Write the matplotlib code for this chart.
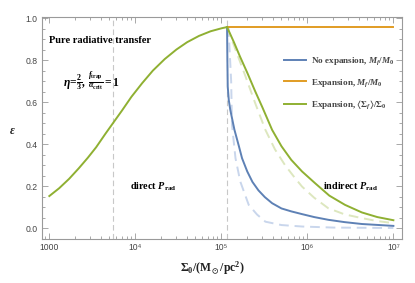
import matplotlib
matplotlib.use("Agg")
import matplotlib.pyplot as plt
from matplotlib.ticker import FixedLocator, FixedFormatter, MultipleLocator, LogLocator, NullFormatter

plt.rcParams['font.family'] = ['Liberation Serif', 'DejaVu Serif']
plt.rcParams['font.weight'] = 'bold'
plt.rcParams['mathtext.fontset'] = 'custom'
plt.rcParams['mathtext.rm'] = 'Liberation Serif:bold'
plt.rcParams['mathtext.it'] = 'Liberation Serif:bold:italic'
plt.rcParams['mathtext.bf'] = 'Liberation Serif:bold'
plt.rcParams['mathtext.fallback'] = 'stix'

# rising part (pure radiative transfer), shared by all expansion cases
sigma_rise = [1000, 1300, 1700, 2200, 2800, 3500, 4500, 5500, 7000, 9000, 1.2e4,
              1.6e4, 2.2e4, 3e4, 4e4, 5.5e4, 7.5e4, 1.0e5, 1.165e5]
eps_rise = [0.153, 0.19, 0.235, 0.285, 0.335, 0.385, 0.45, 0.50, 0.56, 0.625, 0.69,
            0.75, 0.805, 0.85, 0.885, 0.915, 0.937, 0.951, 0.957]

# no expansion, M_f/M_0
sigma_noexp = [1.165e5, 1.175e5, 1.186e5, 1.22e5, 1.27e5, 1.42e5, 1.6e5, 1.74e5,
               2.0e5, 2.3e5, 2.7e5, 3.2e5, 3.89e5, 5e5, 6.5e5, 8.67e5, 1.2e6,
               1.75e6, 2.7e6, 4.3e6, 1e7]
eps_noexp = [0.957, 0.80, 0.674, 0.61, 0.563, 0.468, 0.39, 0.333,
             0.27, 0.22, 0.18, 0.148, 0.119, 0.094, 0.08, 0.067, 0.053,
             0.040, 0.029, 0.020, 0.011]

# no expansion, comparison case (dashed)
sigma_noexp_d = [1.21e5, 1.3e5, 1.33e5, 1.46e5, 1.66e5, 2.08e5, 2.6e5, 3.25e5,
                 5e5, 8.67e5, 2e6, 1e7]
eps_noexp_d = [0.957, 0.70, 0.49, 0.333, 0.222, 0.111, 0.065, 0.031,
               0.015, 0.008, 0.003, 0.001]

# expansion, M_f/M_0
sigma_exp = [1.165e5, 1e7]
eps_exp = [0.957, 0.957]

# expansion, <Sigma_f>/Sigma_0
sigma_surf = [1.165e5, 1.4e5, 1.65e5, 2.0e5, 2.47e5, 3.0e5, 3.89e5, 5e5, 6.5e5,
              8.67e5, 1.23e6, 1.8e6, 2.74e6, 4.3e6, 6.5e6, 1e7]
eps_surf = [0.957, 0.885, 0.816, 0.74, 0.652, 0.575, 0.468, 0.39, 0.325,
            0.27, 0.214, 0.155, 0.111, 0.075, 0.053, 0.038]

# expansion, comparison case (dashed)
sigma_surf_d = [1.165e5, 1.4e5, 1.89e5, 2.5e5, 3.25e5, 4.2e5, 5.5e5, 7.2e5, 8.67e5,
                1.2e6, 1.75e6, 2.7e6, 4.3e6, 6.5e6, 1e7]
eps_surf_d = [0.957, 0.87, 0.727, 0.59, 0.468, 0.375, 0.30, 0.238, 0.198,
              0.145, 0.095, 0.066, 0.048, 0.034, 0.024]

vlines_sigma = [5.5e3, 1.165e5]

xticks = [1e3, 1e4, 1e5, 1e6, 1e7]
xticklabels = ['1000', '10\u2074', '10\u2075', '10\u2076', '10\u2077']

blue = '#5E81B5'
orange = '#E19C24'
green = '#8FB032'

fig = plt.figure(figsize=(4.15, 2.83), dpi=100)
ax = fig.add_axes([0.1012, 0.1565, 0.8668, 0.7835])

for v in vlines_sigma:
    ax.axvline(v, color='#C8C8C8', lw=0.8, ls=(0, (5, 3)), zorder=1)

ax.plot(sigma_noexp_d, eps_noexp_d, color='#C9D6EC', lw=1.4, ls=(0, (5, 3)), zorder=2)
ax.plot(sigma_surf_d, eps_surf_d, color='#DDE7BF', lw=1.4, ls=(0, (5, 3)), zorder=2)
ax.plot(sigma_noexp, eps_noexp, color=blue, lw=1.4, label=r'No expansion, $M_f/M_0$', zorder=3)
ax.plot(sigma_exp, eps_exp, color=orange, lw=1.4, label=r'Expansion, $M_f/M_0$', zorder=3)
ax.plot(sigma_surf, eps_surf, color=green, lw=1.4,
        label=r'Expansion, $\langle\Sigma_f\rangle/\Sigma_0$', zorder=4)
ax.plot(sigma_rise, eps_rise, color=green, lw=1.4, zorder=4)

ax.set_xscale('log')
ax.set_xlim(822, 1.25e7)
ax.set_ylim(-0.05, 1.005)

ax.xaxis.set_major_locator(FixedLocator(xticks))
ax.xaxis.set_major_formatter(FixedFormatter(xticklabels))
ax.xaxis.set_minor_locator(LogLocator(base=10, subs=range(2, 10)))
ax.xaxis.set_minor_formatter(NullFormatter())
ax.yaxis.set_major_locator(MultipleLocator(0.2))
ax.yaxis.set_minor_locator(MultipleLocator(0.05))
ax.yaxis.set_major_formatter(plt.FuncFormatter(lambda v, p: f'{v:.1f}'))

ax.tick_params(which='both', direction='in', top=True, right=True, color='#9A9A9A',
               labelcolor='#444444', labelsize=6.2, width=0.6)
ax.tick_params(which='major', length=4, pad=3)
ax.tick_params(which='minor', length=2)
for lab in ax.get_xticklabels() + ax.get_yticklabels():
    lab.set_family(['Liberation Sans', 'DejaVu Sans'])
    lab.set_weight('normal')
for s in ax.spines.values():
    s.set_color('#9A9A9A')
    s.set_linewidth(0.8)

ax.text(0.475, -0.132, r'$\Sigma_0/(\mathrm{M}_\odot/\mathrm{pc}^2)$', transform=ax.transAxes,
        ha='center', va='center', fontsize=8.5, color='#222222')
ax.text(-0.083, 0.485, r'$\epsilon$', transform=ax.transAxes, ha='center', va='center',
        fontsize=8.5, color='#222222')

ax.text(1.0e3, 0.895, 'Pure radiative transfer', fontsize=7.5, va='center')
ax.text(1.45e3, 0.70, r'$\eta\!=\!\frac{2}{3},\, \frac{f_{\mathrm{trap}}}{\alpha_{\mathrm{crit}}}=1$',
        fontsize=8.3, va='center')
ax.text(8.7e3, 0.198, r'direct $P_{\mathrm{rad}}$', fontsize=7.3, va='center')
ax.text(1.52e6, 0.198, r'indirect $P_{\mathrm{rad}}$', fontsize=7.3, va='center')

leg = ax.legend(loc='center left', bbox_to_anchor=(0.673, 0.70), frameon=False,
                prop={'family': 'Liberation Serif', 'weight': 'bold', 'size': 6.6},
                handlelength=2.4, handletextpad=0.55, labelspacing=1.05,
                borderpad=0, borderaxespad=0)
for t in leg.get_texts():
    t.set_color('#444444')

fig.savefig('out.png', dpi=100)
